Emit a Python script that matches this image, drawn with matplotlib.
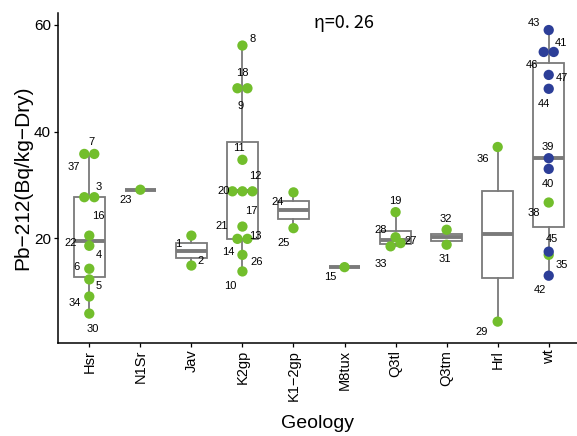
import matplotlib
matplotlib.use('Agg')
import matplotlib.pyplot as plt
import numpy as np

# groups on the x axis
geology = ['Hsr', 'N1Sr', 'Jav', 'K2gp', 'K1−2gp', 'M8tux', 'Q3tl', 'Q3tm', 'Hrl', 'wt']

# samples: id, group, value, colour class (0 = green, 1 = blue)
sample_id = [37, 7, 16, 3, 22, 4, 6, 5, 34, 30,
             23,
             1, 2,
             8, 18, 9, 11, 20, 17, 12, 21, 14, 13, 26, 10,
             24, 25,
             15,
             19, 28, 33, 27,
             32, 31,
             36, 29,
             43, 46, 41, 47, 44, 39, 40, 38, 45, 35, 42]
sample_geo = ['Hsr'] * 10 + ['N1Sr'] + ['Jav'] * 2 + ['K2gp'] * 12 + ['K1−2gp'] * 2 + \
             ['M8tux'] + ['Q3tl'] * 4 + ['Q3tm'] * 2 + ['Hrl'] * 2 + ['wt'] * 11
pb212 = [35.8, 35.8, 27.7, 27.7, 20.5, 18.6, 14.3, 12.3, 9.1, 5.9,
         29.1,
         20.5, 14.9,
         56.1, 48.1, 48.1, 34.7, 28.8, 28.8, 28.8, 22.2, 19.9, 19.9, 16.9, 13.8,
         28.6, 21.9,
         14.6,
         24.9, 20.2, 18.5, 19.1,
         21.6, 18.8,
         37.1, 4.4,
         59.0, 54.9, 54.9, 50.6, 48.0, 35.0, 33.0, 26.7, 17.5, 16.9, 13.0]
colour_class = [0] * 36 + [1, 1, 1, 1, 1, 1, 1, 0, 1, 0, 1]

# label offsets (pixels, right / down) for the repel-style labels
label_off = {
    7: (-2.4, -11.7), 37: (-10.7, 12.7), 3: (4.3, -9.7), 16: (13.6, 19.3),
    22: (-18.7, 7.6), 4: (9.7, 9), 6: (-12.4, -1.3), 5: (9.3, 7),
    34: (-15, 6), 30: (3.6, 15.3), 23: (-15, 10.7), 1: (-12.7, 8.3),
    2: (9, -5), 8: (10, -6.4), 18: (4.7, -15.6), 9: (-7, 17.7),
    11: (-4, -11.7), 20: (-8.7, 0), 12: (2.7, -15), 17: (9.3, 19.3),
    21: (-21, -0.7), 13: (8.3, -3), 14: (-9.3, 12.7), 26: (14, 6.7),
    10: (-12.6, 14.3), 24: (-15.7, 10), 25: (-10, 14.4), 15: (-14.7, 10),
    19: (0, -11.3), 28: (-15, -7.7), 27: (9.7, -2.3), 33: (-9.3, 17.7),
    32: (-1, -10.7), 31: (-1.7, 14), 36: (-14.4, 11.7), 29: (-16, 10),
    43: (-15, -6.7), 41: (7.6, -9), 46: (-11.3, 12.7), 47: (12.7, 3.3),
    44: (-5, 15), 39: (-1, -11.6), 40: (-1, 14.7), 38: (-15, 10),
    45: (2.7, -12.4), 35: (12.7, 10), 42: (-8.3, 14.3),
}

colours = ['#72BE2C', '#2C3E98']
W, H = 577, 436
xlim = (0.387, 10.554)
ylim = (0.45, 62.27)

fig = plt.figure(figsize=(W / 100, H / 100), dpi=100)
ax = fig.add_axes([58 / W, (H - 342.7) / H, 519 / W, (342.7 - 12.6) / H])
ax.set_xlim(*xlim)
ax.set_ylim(*ylim)

px_x = 519 / (xlim[1] - xlim[0])
px_y = (342.7 - 12.6) / (ylim[1] - ylim[0])

# boxes
box_data = [[v for g, v in zip(sample_geo, pb212) if g == name] for name in geology]
grey = '#7a7a7a'
ax.boxplot(box_data, positions=np.arange(1, 11), widths=0.6, whis=1.5,
           patch_artist=True, showcaps=False, showfliers=False,
           boxprops=dict(facecolor='white', edgecolor=grey, linewidth=1.3),
           whiskerprops=dict(color=grey, linewidth=1.3),
           medianprops=dict(color=grey, linewidth=2.8),
           zorder=1)

# simple swarm: rows of close values spread side by side
xs = np.zeros(len(pb212))
for gi, name in enumerate(geology):
    for c in (0, 1):
        idx = [i for i in range(len(pb212)) if sample_geo[i] == name and colour_class[i] == c]
        idx = sorted(idx, key=lambda i: pb212[i])
        rows = []
        for i in idx:
            if rows and (pb212[i] - pb212[rows[-1][0]]) * px_y < 5:
                rows[-1].append(i)
            else:
                rows.append([i])
        for row in rows:
            row = sorted(row)
            n = len(row)
            for k, i in enumerate(row):
                xs[i] = gi + 1 + (k - (n - 1) / 2) * 10 / px_x

yv = np.array(pb212)
cc = np.array(colour_class)
for c in (0, 1):
    m = cc == c
    ax.scatter(xs[m], yv[m], s=55, c=colours[c], edgecolors='none', zorder=3)

for i, sid in enumerate(sample_id):
    dx, dy = label_off[sid]
    ax.annotate(str(sid), (xs[i], pb212[i]), xytext=(dx, -dy),
                textcoords='offset pixels', ha='center', va='center',
                fontsize=8, family='Liberation Sans', zorder=4)

ax.text(344 / W, 1 - 22.5 / H, 'η=0. 26', transform=fig.transFigure,
        ha='center', va='center', fontsize=13,
        family=['Noto Sans CJK JP', 'DejaVu Sans'])

for s in ('top', 'right'):
    ax.spines[s].set_visible(False)
for s in ('left', 'bottom'):
    ax.spines[s].set_linewidth(1.1)
ax.set_xticks(np.arange(1, 11))
ax.set_xticklabels(geology, rotation=90, family='Liberation Sans', fontsize=10.5)
ax.set_yticks([20, 40, 60])
ax.set_yticklabels(['20', '40', '60'], family='Liberation Sans', fontsize=11)
ax.tick_params(length=3, width=0.9, pad=2)
ax.set_xlabel('Geology', family='Liberation Sans', fontsize=14)
ax.xaxis.set_label_coords(0.5, -(415 - 342.7) / 330.1)
ax.set_ylabel('Pb−212(Bq/kg−Dry)', family='Liberation Sans', fontsize=15)
ax.yaxis.set_label_coords(-(58 - 32) / 519, 0.5)

fig.savefig('out.png', dpi=100)
